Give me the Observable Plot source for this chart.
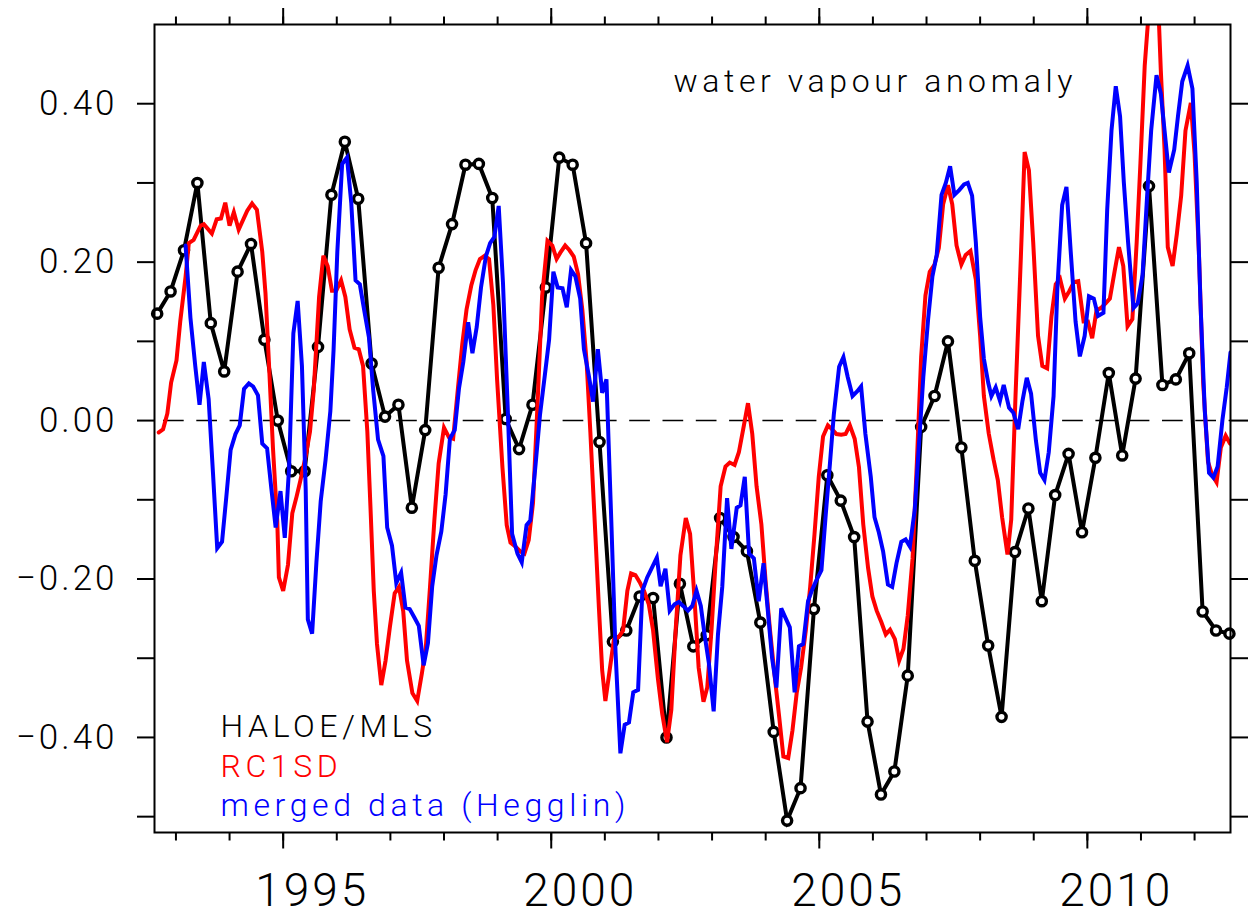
<!DOCTYPE html>
<html>
<head>
<meta charset="utf-8">
<script src="https://cdn.jsdelivr.net/npm/d3@7"></script>
<script src="https://cdn.jsdelivr.net/npm/@observablehq/plot@0.6"></script>
<style>
html, body { margin: 0; padding: 0; background: #fff; }
#chart svg { display: block; }
</style>
</head>
<body>
<div id="chart"></div>
<script>
// ---------- data ----------
const haloeStart = 1992.65;   // first quarterly sample (decimal year)
const haloeStep = 0.25;       // quarterly
const haloeAnom = [
  0.135, 0.163, 0.215, 0.300, 0.123, 0.062, 0.188, 0.223, 0.102, 0.000,
 -0.064,-0.064, 0.093, 0.285, 0.352, 0.280, 0.072, 0.005, 0.020,-0.110,
 -0.012, 0.193, 0.248, 0.323, 0.324, 0.281, 0.002,-0.036, 0.020, 0.168,
  0.332, 0.323, 0.224,-0.027,-0.279,-0.265,-0.222,-0.224,-0.400,-0.206,
 -0.285,-0.271,-0.123,-0.147,-0.165,-0.255,-0.393,-0.505,-0.464,-0.238,
 -0.069,-0.101,-0.147,-0.380,-0.472,-0.443,-0.322,-0.008, 0.031, 0.100,
 -0.034,-0.177,-0.284,-0.374,-0.166,-0.111,-0.228,-0.094,-0.042,-0.141,
 -0.047, 0.060,-0.044, 0.053, 0.296, 0.045, 0.052, 0.085,-0.241,-0.265,
 -0.269
];

const rc1sd = [
 [1992.68,-0.015],[1992.76,-0.011],[1992.84,0.009],[1992.91,0.048],[1993.01,0.076],[1993.08,0.125],[1993.18,0.182],[1993.24,0.224],[1993.33,0.228],[1993.46,0.246],
 [1993.52,0.248],[1993.67,0.236],[1993.76,0.254],[1993.84,0.255],[1993.92,0.275],[1994.00,0.246],[1994.08,0.263],[1994.17,0.241],[1994.33,0.265],[1994.42,0.274],
 [1994.51,0.266],[1994.61,0.213],[1994.67,0.161],[1994.73,0.079],[1994.81,-0.035],[1994.89,-0.127],[1994.92,-0.198],[1995.00,-0.215],[1995.09,-0.182],[1995.17,-0.117],
 [1995.25,-0.096],[1995.32,-0.076],[1995.42,-0.045],[1995.50,-0.014],[1995.57,0.038],[1995.67,0.156],[1995.75,0.208],[1995.83,0.195],[1995.91,0.164],[1995.99,0.164],
 [1996.08,0.177],[1996.16,0.156],[1996.24,0.115],[1996.33,0.092],[1996.41,0.090],[1996.49,0.069],[1996.57,-0.014],[1996.63,-0.112],[1996.69,-0.215],[1996.75,-0.282],
 [1996.83,-0.334],[1996.91,-0.303],[1996.99,-0.261],[1997.08,-0.218],[1997.16,-0.210],[1997.24,-0.241],[1997.31,-0.303],[1997.41,-0.344],[1997.50,-0.354],[1997.59,-0.318],
 [1997.66,-0.287],[1997.74,-0.209],[1997.82,-0.126],[1997.90,-0.054],[1998.00,-0.009],[1998.09,-0.021],[1998.17,-0.023],[1998.26,0.041],[1998.34,0.096],[1998.42,0.140],
 [1998.51,0.171],[1998.59,0.190],[1998.67,0.204],[1998.76,0.208],[1998.84,0.204],[1998.92,0.146],[1998.99,0.052],[1999.09,-0.059],[1999.17,-0.132],[1999.24,-0.154],
 [1999.33,-0.159],[1999.42,-0.165],[1999.50,-0.168],[1999.58,-0.151],[1999.66,-0.104],[1999.75,0.029],[1999.83,0.157],[1999.93,0.227],[2000.02,0.221],[2000.10,0.204],
 [2000.17,0.212],[2000.26,0.221],[2000.34,0.215],[2000.42,0.207],[2000.50,0.185],[2000.58,0.140],[2000.66,0.074],[2000.73,-0.015],[2000.81,-0.126],[2000.89,-0.237],
 [2000.95,-0.315],[2001.01,-0.354],[2001.09,-0.315],[2001.17,-0.276],[2001.26,-0.273],[2001.34,-0.265],[2001.42,-0.215],[2001.49,-0.193],[2001.57,-0.195],[2001.65,-0.204],
 [2001.73,-0.215],[2001.82,-0.232],[2001.90,-0.265],[2001.99,-0.326],[2002.07,-0.370],[2002.16,-0.406],[2002.24,-0.365],[2002.32,-0.265],[2002.41,-0.170],[2002.51,-0.123],
 [2002.59,-0.143],[2002.67,-0.222],[2002.75,-0.312],[2002.84,-0.355],[2002.91,-0.337],[2002.99,-0.264],[2003.07,-0.174],[2003.16,-0.083],[2003.25,-0.058],[2003.33,-0.053],
 [2003.42,-0.056],[2003.50,-0.040],[2003.58,-0.011],[2003.67,0.022],[2003.75,-0.017],[2003.83,-0.083],[2003.92,-0.131],[2004.00,-0.204],[2004.08,-0.264],[2004.17,-0.324],
 [2004.25,-0.373],[2004.33,-0.424],[2004.42,-0.426],[2004.50,-0.391],[2004.58,-0.343],[2004.66,-0.312],[2004.75,-0.264],[2004.83,-0.210],[2004.91,-0.144],[2004.99,-0.071],
 [2005.07,-0.020],[2005.16,-0.006],[2005.24,-0.011],[2005.32,-0.017],[2005.41,-0.018],[2005.49,-0.017],[2005.57,-0.006],[2005.66,-0.023],[2005.74,-0.059],[2005.82,-0.131],
 [2005.91,-0.186],[2005.99,-0.222],[2006.07,-0.240],[2006.16,-0.255],[2006.24,-0.270],[2006.32,-0.264],[2006.41,-0.276],[2006.49,-0.303],[2006.57,-0.288],[2006.65,-0.246],
 [2006.74,-0.174],[2006.82,-0.053],[2006.90,0.080],[2006.98,0.158],[2007.06,0.188],[2007.15,0.197],[2007.23,0.218],[2007.31,0.273],[2007.40,0.297],[2007.48,0.273],
 [2007.56,0.221],[2007.65,0.197],[2007.73,0.209],[2007.82,0.214],[2007.92,0.178],[2008.00,0.107],[2008.07,0.031],[2008.16,-0.016],[2008.25,-0.049],[2008.33,-0.075],
 [2008.41,-0.122],[2008.51,-0.169],[2008.58,-0.125],[2008.66,0.031],[2008.76,0.207],[2008.83,0.339],[2008.91,0.316],[2008.99,0.225],[2009.08,0.107],[2009.16,0.069],
 [2009.25,0.066],[2009.33,0.131],[2009.41,0.172],[2009.49,0.179],[2009.58,0.154],[2009.66,0.163],[2009.75,0.175],[2009.83,0.176],[2009.93,0.125],[2010.01,0.125],
 [2010.09,0.104],[2010.17,0.139],[2010.25,0.142],[2010.34,0.148],[2010.42,0.154],[2010.51,0.189],[2010.59,0.219],[2010.67,0.195],[2010.75,0.119],[2010.84,0.128],
 [2010.92,0.225],[2010.99,0.325],[2011.07,0.448],[2011.16,0.530],[2011.24,0.560],[2011.32,0.530],[2011.37,0.442],[2011.44,0.342],[2011.50,0.219],[2011.59,0.195],
 [2011.67,0.236],[2011.75,0.284],[2011.83,0.366],[2011.93,0.401],[2012.00,0.336],[2012.08,0.213],[2012.16,0.048],[2012.25,-0.052],[2012.33,-0.069],[2012.41,-0.078],
 [2012.49,-0.034],[2012.58,-0.019],[2012.66,-0.029]
];

const merged = [
 [1993.18,0.221],[1993.27,0.130],[1993.36,0.069],[1993.44,0.020],[1993.52,0.074],[1993.61,0.027],[1993.69,-0.065],[1993.77,-0.161],[1993.86,-0.153],[1993.94,-0.096],
 [1994.02,-0.037],[1994.11,-0.017],[1994.19,-0.006],[1994.27,0.040],[1994.36,0.047],[1994.44,0.043],[1994.53,0.032],[1994.61,-0.029],[1994.70,-0.035],[1994.78,-0.086],
 [1994.86,-0.135],[1994.95,-0.089],[1995.03,-0.148],[1995.11,-0.060],[1995.19,0.110],[1995.27,0.151],[1995.35,0.069],[1995.42,-0.086],[1995.46,-0.251],[1995.54,-0.269],
 [1995.62,-0.179],[1995.70,-0.102],[1995.79,-0.050],[1995.88,0.012],[1995.94,0.089],[1996.01,0.213],[1996.10,0.324],[1996.19,0.332],[1996.27,0.275],[1996.35,0.177],
 [1996.43,0.172],[1996.52,0.136],[1996.60,0.105],[1996.68,0.038],[1996.77,-0.024],[1996.87,-0.045],[1996.94,-0.135],[1997.03,-0.158],[1997.11,-0.205],[1997.20,-0.192],
 [1997.28,-0.236],[1997.36,-0.238],[1997.45,-0.249],[1997.53,-0.259],[1997.62,-0.309],[1997.70,-0.281],[1997.78,-0.209],[1997.86,-0.170],[1997.95,-0.140],[1998.03,-0.093],
 [1998.11,-0.023],[1998.20,-0.012],[1998.28,0.041],[1998.36,0.074],[1998.45,0.124],[1998.53,0.085],[1998.61,0.118],[1998.69,0.168],[1998.78,0.207],[1998.86,0.224],
 [1998.94,0.232],[1999.02,0.271],[1999.10,0.174],[1999.19,0.013],[1999.27,-0.143],[1999.37,-0.168],[1999.45,-0.179],[1999.54,-0.132],[1999.61,-0.126],[1999.71,-0.054],
 [1999.79,0.007],[1999.88,0.057],[1999.96,0.102],[2000.04,0.188],[2000.12,0.168],[2000.21,0.167],[2000.29,0.143],[2000.37,0.190],[2000.45,0.182],[2000.54,0.154],
 [2000.61,0.090],[2000.70,0.057],[2000.78,0.024],[2000.87,0.090],[2000.95,0.035],[2001.03,0.052],[2001.12,-0.126],[2001.20,-0.293],[2001.29,-0.420],[2001.37,-0.384],
 [2001.45,-0.381],[2001.53,-0.343],[2001.62,-0.340],[2001.70,-0.215],[2001.79,-0.198],[2001.87,-0.187],[2001.97,-0.173],[2002.04,-0.209],[2002.13,-0.187],[2002.21,-0.240],
 [2002.30,-0.232],[2002.38,-0.229],[2002.46,-0.234],[2002.55,-0.240],[2002.63,-0.234],[2002.71,-0.215],[2002.79,-0.234],[2002.86,-0.270],[2002.94,-0.306],[2003.03,-0.367],
 [2003.11,-0.270],[2003.19,-0.210],[2003.28,-0.098],[2003.36,-0.162],[2003.46,-0.110],[2003.53,-0.107],[2003.61,-0.071],[2003.69,-0.168],[2003.78,-0.174],[2003.87,-0.228],
 [2003.96,-0.180],[2004.04,-0.240],[2004.12,-0.300],[2004.20,-0.337],[2004.29,-0.237],[2004.37,-0.249],[2004.45,-0.261],[2004.54,-0.343],[2004.62,-0.285],[2004.70,-0.282],
 [2004.79,-0.228],[2004.87,-0.213],[2004.95,-0.201],[2005.04,-0.189],[2005.12,-0.119],[2005.20,-0.053],[2005.27,0.007],[2005.37,0.068],[2005.45,0.080],[2005.53,0.055],
 [2005.62,0.031],[2005.71,0.037],[2005.78,0.043],[2005.86,-0.017],[2005.96,-0.071],[2006.03,-0.122],[2006.11,-0.141],[2006.19,-0.165],[2006.28,-0.207],[2006.36,-0.210],
 [2006.44,-0.180],[2006.53,-0.153],[2006.61,-0.150],[2006.69,-0.159],[2006.78,-0.113],[2006.86,-0.029],[2006.94,0.055],[2007.03,0.128],[2007.11,0.182],[2007.19,0.209],
 [2007.28,0.285],[2007.36,0.300],[2007.44,0.321],[2007.52,0.285],[2007.61,0.291],[2007.70,0.298],[2007.77,0.300],[2007.85,0.284],[2007.92,0.225],[2008.00,0.131],
 [2008.07,0.078],[2008.15,0.048],[2008.21,0.031],[2008.29,0.042],[2008.37,0.025],[2008.44,0.045],[2008.54,0.016],[2008.62,0.010],[2008.71,-0.011],[2008.79,0.025],
 [2008.87,0.054],[2008.95,0.034],[2009.04,-0.025],[2009.12,-0.066],[2009.20,-0.075],[2009.28,-0.040],[2009.37,0.031],[2009.44,0.166],[2009.53,0.272],[2009.61,0.295],
 [2009.69,0.213],[2009.78,0.125],[2009.86,0.081],[2009.95,0.107],[2010.03,0.157],[2010.12,0.154],[2010.20,0.132],[2010.30,0.136],[2010.37,0.266],[2010.45,0.366],
 [2010.53,0.422],[2010.61,0.384],[2010.68,0.301],[2010.76,0.225],[2010.86,0.142],[2010.94,0.148],[2011.03,0.184],[2011.11,0.278],[2011.19,0.366],[2011.29,0.436],
 [2011.37,0.413],[2011.44,0.366],[2011.52,0.313],[2011.62,0.342],[2011.69,0.384],[2011.77,0.428],[2011.87,0.448],[2011.96,0.419],[2012.04,0.301],[2012.11,0.148],
 [2012.19,0.013],[2012.27,-0.066],[2012.35,-0.072],[2012.43,-0.058],[2012.52,0.001],[2012.60,0.042],[2012.67,0.086]
];

const xDomain = [1992.60, 2012.67];
const yDomain = [-0.52, 0.50];
const minorYears = [1993,1994,1995,1996,1997,1998,1999,2000,2001,2002,2003,2004,2005,2006,2007,2008,2009,2010,2011,2012];
const majorYears = [1995, 2000, 2005, 2010];
const yTicksAll = [-0.5,-0.4,-0.3,-0.2,-0.1,0,0.1,0.2,0.3,0.4];
const yTickLabels = [-0.4,-0.2,0,0.2,0.4];
const titleText = "water vapour anomaly";
const legendLabels = ["HALOE/MLS", "RC1SD", "merged data (Hegglin)"];
const legendColors = ["#000000", "#ff0000", "#0000ff"];

// ---------- build ----------
const haloe = haloeAnom.map((v, i) => ({year: haloeStart + i * haloeStep, v}));
const red = rc1sd.map(([year, v]) => ({year, v}));
const blue = merged.map(([year, v]) => ({year, v}));
const fmtY = d => (d < 0 ? "\u2212" : "") + Math.abs(d).toFixed(2);
const blank = () => "";

const lineOpts = {x: "year", y: "v", strokeWidth: 4, strokeLinejoin: "miter", strokeMiterlimit: 4, clip: true};

const legendMarks = legendLabels.map((lab, i) =>
  Plot.text([lab], {frameAnchor: "top-left", dx: 66, dy: 702.5 + i * 39.6, textAnchor: "start",
    lineAnchor: "middle", fontSize: 32, fill: legendColors[i]}));

const chart = Plot.plot({
  width: 1248,
  height: 919,
  marginLeft: 154,
  marginRight: 18,
  marginTop: 24,
  marginBottom: 87,
  x: {domain: xDomain},
  y: {domain: yDomain},
  style: "font-family: Roboto, 'DejaVu Sans', sans-serif; font-weight: 300; color: black; background: white;",
  marks: [
    Plot.ruleY([0], {stroke: "black", strokeWidth: 1.5, strokeDasharray: "20.7,12.6", strokeDashoffset: -9}),
    Plot.line(haloe, {...lineOpts, stroke: "black"}),
    Plot.dot(haloe, {x: "year", y: "v", r: 4.6, fill: "white", stroke: "black", strokeWidth: 3.4}),
    Plot.line(red, {...lineOpts, stroke: "#ff0000"}),
    Plot.line(blue, {...lineOpts, stroke: "#0000ff"}),
    Plot.frame({stroke: "black", strokeWidth: 2}),
    // axes
    Plot.axisY({anchor: "left", ticks: yTicksAll, tickSize: 17, strokeWidth: 2, tickFormat: blank, label: null}),
    Plot.axisY({anchor: "right", ticks: yTicksAll, tickSize: 17, strokeWidth: 2, tickFormat: blank, label: null}),
    Plot.axisY({anchor: "left", ticks: yTickLabels, tickSize: 0, tickPadding: 37, tickFormat: fmtY, fontSize: 35, label: null}),
    Plot.axisX({anchor: "bottom", ticks: minorYears, tickSize: 8.5, strokeWidth: 2, tickFormat: blank, label: null}),
    Plot.axisX({anchor: "bottom", ticks: majorYears, tickSize: 16.5, strokeWidth: 2, tickFormat: blank, label: null}),
    Plot.axisX({anchor: "top", ticks: minorYears, tickSize: 8.5, strokeWidth: 2, tickFormat: blank, label: null}),
    Plot.axisX({anchor: "top", ticks: majorYears, tickSize: 17, strokeWidth: 2, tickFormat: blank, label: null}),
    Plot.axisX({anchor: "bottom", ticks: majorYears, tickSize: 0, tickPadding: 41, tickFormat: d => String(d), fontSize: 46, dx: 29, label: null}),
    // title & legend
    Plot.text([titleText], {frameAnchor: "top-left", dx: 519, dy: 57, textAnchor: "start", lineAnchor: "middle", fontSize: 32, fill: "black"}),
    ...legendMarks
  ]
});

// letter spacing: the original's stroke font is set wide
const spaced = new Set([titleText, ...legendLabels]);
d3.select(chart).selectAll("text").each(function() {
  const t = this.textContent;
  if (spaced.has(t)) d3.select(this).attr("letter-spacing", 4.6);
  else if (t.length) d3.select(this).attr("letter-spacing", 3);
});

document.getElementById("chart").appendChild(chart);
</script>
</body>
</html>
